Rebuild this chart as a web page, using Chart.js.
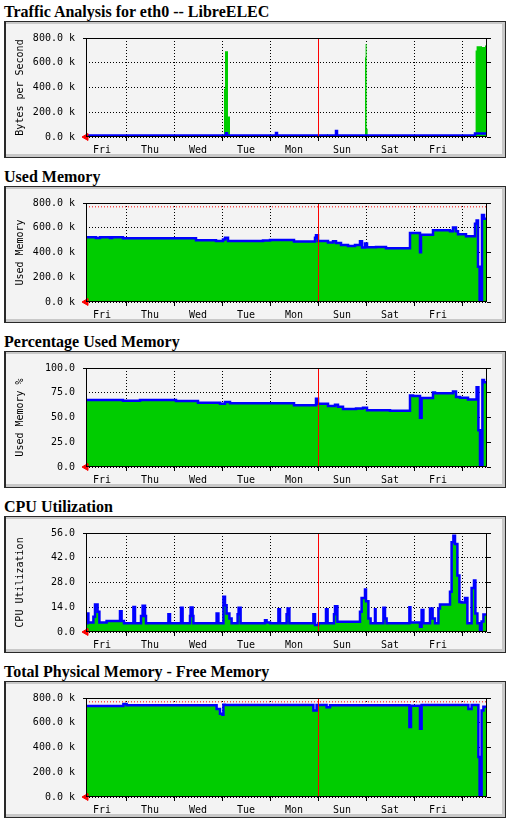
<!DOCTYPE html>
<html>
<head>
<meta charset="utf-8">
<script src="https://cdn.jsdelivr.net/npm/chart.js@4.4.0/dist/chart.umd.min.js"></script>
<style>
body { margin: 0; background: #fff; width: 510px; height: 824px; position: relative; overflow: hidden; }
.title { position: absolute; left: 4px; font: bold 16px "Liberation Serif", serif; line-height: 16px; color: #000; white-space: nowrap; }
canvas { position: absolute; left: 4px; }
</style>
</head>
<body>
<script>
// time axis, in hours from the left edge of the plot
const dayLabels = ['Fri', 'Thu', 'Wed', 'Tue', 'Mon', 'Sun', 'Sat', 'Fri']
const dayLabelHours = [8, 32, 56, 80, 104, 128, 152, 176]
const dayGridHours = [20, 44, 68, 92, 116, 140, 164, 188]
const spanHours = 200.5
const markerHour = 116.25

// traffic (k bytes/s)
const trafficInHours = [0, 69, 69.5, 71, 72, 120.5, 121, 139.5, 139.8, 140.3, 140.8, 194.8, 195.3, 198, 199.5, 200.5]
const trafficInValues = [5, 390, 692, 166, 5, 25, 5, 644, 752, 67, 5, 698, 733, 728, 740, 740]
const trafficOutHours = [0, 70, 70.5, 95, 95.5, 125, 125.5, 194.5, 200.5]
const trafficOutValues = [13, 30, 13, 32, 13, 48, 13, 28, 28]

// used memory (k)
const usedHours = [0, 5, 7, 12, 13, 18.5, 55, 65, 68.5, 69.5, 71, 88.5, 92, 104, 114.5, 115, 116, 121, 123.5, 125, 127.5, 131, 134.5, 137, 138, 139.5, 140.5, 145, 150, 162, 167, 167.5, 173.5, 182, 183.5, 185, 186, 190, 194.5, 195.3, 196, 196.8, 198, 199, 200.5]
const usedValues = [523, 517, 523, 518, 523, 515, 499, 493, 505, 520, 493, 496, 501, 488, 520, 539, 493, 480, 491, 477, 461, 453, 461, 491, 440, 472, 443, 445, 435, 557, 403, 544, 579, 572, 603, 572, 547, 531, 632, 659, 285, 0, 704, 672, 672]
const totalMemory = 769

// percentage used memory
const pctHours = [0, 18.5, 27, 45, 56, 67, 69.5, 72, 104, 115, 116, 121, 124.5, 126, 128.5, 135, 138.5, 140.5, 152, 162, 163.5, 167, 167.8, 173.5, 174.5, 183.5, 185, 187, 191, 195.3, 196.2, 197, 198.2, 199, 200.5]
const pctValues = [67.6, 66.9, 67.6, 66.6, 64.9, 63.9, 65.6, 64.5, 62.5, 68.9, 63.9, 61.5, 62.9, 60.9, 58.5, 59.2, 59.9, 57.2, 56.9, 72.2, 71.6, 49.8, 69.6, 75.3, 74.6, 76.3, 70.6, 69.9, 68.2, 80.6, 37, 0, 88, 85.6, 85.6]

// cpu utilization
const cpuHours = [0, 0.7, 1.2, 3.7, 4.5, 5.8, 6.7, 10.3, 17, 17.8, 19, 23.7, 24.5, 27.5, 28.3, 29.5, 30, 41.2, 42, 47.5, 48.3, 52, 52.3, 53.3, 53.7, 65.3, 66.2, 68.7, 69.5, 70.3, 71.7, 72.8, 75.8, 76.3, 77.3, 89.5, 90.3, 92, 96.2, 97, 100.3, 100.8, 101.7, 113.7, 114.5, 116.2, 120, 120.8, 124, 124.5, 125.7, 137, 137.8, 139.5, 140, 141.2, 142.3, 144.5, 144.8, 148.7, 149.5, 150.3, 161.7, 162.2, 167, 167.8, 168.7, 172, 173.3, 174.5, 176.2, 177, 182, 182.8, 183.7, 184.5, 185.7, 186.7, 187.8, 189.5, 190.7, 192.8, 194, 194.7, 195.7, 197, 197.8, 198.7, 200.5]
const cpuValues = [4.9, 10.5, 5.4, 8.6, 15.5, 11.4, 5.4, 6.2, 11.8, 6.2, 4.9, 14.2, 4.9, 9, 14.8, 9, 4.9, 10.1, 4.9, 13.7, 4.9, 9, 13.9, 9, 4.9, 10.5, 4.9, 19.9, 15.2, 10.5, 7.7, 4.9, 10, 13.7, 4.9, 6.7, 5.4, 4.9, 12.9, 4.9, 10, 13.3, 4.9, 10.1, 3.9, 4.9, 12.9, 4.9, 10, 14.6, 5.8, 11.4, 19.3, 24, 17.4, 7.7, 4.9, 12.9, 4.9, 13.7, 7.7, 4.9, 14, 5.4, 3, 12.4, 4.9, 13.3, 7.7, 4.9, 13.3, 15.5, 22.7, 50.8, 54.5, 49.8, 32, 17, 16.7, 19.3, 4.9, 24.9, 29.2, 10.5, 4.9, 0, 6, 9.9, 9.9]

// total physical memory - free memory (k)
const freeHours = [0, 18.7, 20.3, 65.3, 67, 68.2, 68.7, 69.5, 113.7, 115.3, 120.3, 122, 161.7, 162.5, 167, 167.8, 191.2, 192.8, 196.2, 196.8, 197.8, 198.7, 200.5]
const freeValues = [736, 752, 741, 712, 672, 664, 746, 744, 698, 744, 725, 741, 565, 738, 551, 744, 712, 744, 324, 0, 698, 730, 730]

const mono = { family: 'DejaVu Sans Mono', size: 10 }
const fmtK = v => v.toFixed(1) + ' k'
const fmtN = v => v.toFixed(1)
const pts = (xs, ys) => xs.map((x, i) => ({ x: x, y: ys[i] }))
const tickHours = dayLabelHours.concat(dayGridHours).sort((a, b) => a - b)
const isGrid = ctx => ctx.tick && dayGridHours.includes(ctx.tick.value)

const panels = [
    { title: 'Traffic Analysis for eth0 -- LibreELEC', yTitle: 'Bytes per Second', max: 800, step: 200, fmt: fmtK,
      area: pts(trafficInHours, trafficInValues), line: pts(trafficOutHours, trafficOutValues) },
    { title: 'Used Memory', yTitle: 'Used Memory', max: 800, step: 200, fmt: fmtK,
      area: pts(usedHours, usedValues), line: pts(usedHours, usedValues), ref: totalMemory },
    { title: 'Percentage Used Memory', yTitle: 'Used Memory %', max: 100, step: 25, fmt: fmtN,
      area: pts(pctHours, pctValues), line: pts(pctHours, pctValues) },
    { title: 'CPU Utilization', yTitle: 'CPU Utilization', max: 56, step: 14, fmt: fmtN,
      area: pts(cpuHours, cpuValues), line: pts(cpuHours, cpuValues) },
    { title: 'Total Physical Memory - Free Memory', yTitle: '', max: 800, step: 200, fmt: fmtK,
      area: pts(freeHours, freeValues), line: pts(freeHours, freeValues), ref: totalMemory },
]

// grey bevelled box behind the graph, black frame round the plot
const boxPlugin = {
    id: 'box',
    beforeDraw(chart) {
        const { ctx, width, height } = chart
        ctx.save()
        ctx.fillStyle = '#2a2a2a'
        ctx.fillRect(0, 0, width, height)
        ctx.fillStyle = '#c8c8c8'
        ctx.fillRect(2, 1, width - 3, height - 2)
        ctx.fillStyle = '#f3f3f3'
        ctx.fillRect(2, 3, width - 6, height - 7)
        ctx.restore()
    },
    afterDatasetsDraw(chart) {
        const { ctx, chartArea: a } = chart
        ctx.save()
        ctx.strokeStyle = '#000'
        ctx.lineWidth = 1
        ctx.strokeRect(a.left + 0.5, a.top + 0.5, a.right - a.left - 1, a.bottom - a.top - 1)
        ctx.beginPath()
        ctx.moveTo(a.left - 3, a.top + 0.5)
        ctx.lineTo(a.left, a.top + 0.5)
        ctx.stroke()
        ctx.restore()
    }
}

panels.forEach((p, i) => {
    const t = document.createElement('div')
    t.className = 'title'
    t.style.top = (4 + 165 * i) + 'px'
    t.textContent = p.title
    document.body.appendChild(t)

    const c = document.createElement('canvas')
    c.width = 502
    c.height = 137
    c.style.top = (21 + 165 * i) + 'px'
    document.body.appendChild(c)

    const datasets = [
        { data: [{ x: 0, y: 0 }], showLine: false, pointStyle: 'triangle', rotation: -90, pointRadius: 4,
          backgroundColor: '#ff0000', borderColor: '#ff0000', borderWidth: 1, clip: false },
        { data: [{ x: markerHour, y: 0 }, { x: markerHour, y: p.max }], borderColor: '#ff0000', borderWidth: 1, pointRadius: 0 },
    ]
    if (p.ref) {
        datasets.push({ data: [{ x: 0, y: p.ref }, { x: spanHours, y: p.ref }], borderColor: '#ff0000',
            borderWidth: 1, borderDash: [1, 2], pointRadius: 0 })
    }
    datasets.push({ data: p.line, stepped: true, borderColor: '#0000ff', borderWidth: 2.5, pointRadius: 0, fill: false })
    datasets.push({ data: p.area, stepped: true, borderWidth: 0, borderColor: 'rgba(0,0,0,0)',
        backgroundColor: '#00cc00', fill: 'origin', pointRadius: 0 })

    new Chart(c, {
        type: 'line',
        data: { datasets: datasets },
        plugins: [boxPlugin],
        options: {
            responsive: false,
            animation: false,
            events: [],
            layout: { padding: { top: 16, left: 0, right: 0, bottom: 0 } },
            plugins: {
                legend: { display: false },
                tooltip: { enabled: false },
            },
            scales: {
                x: {
                    type: 'linear',
                    min: 0,
                    max: spanHours,
                    afterBuildTicks: s => { s.ticks = tickHours.map(v => ({ value: v })) },
                    afterFit: s => { s.height = 21 },
                    border: { display: false, dash: [1, 2] },
                    grid: {
                        color: ctx => isGrid(ctx) ? '#000' : 'rgba(0,0,0,0)',
                        tickColor: ctx => isGrid(ctx) ? '#000' : 'rgba(0,0,0,0)',
                        tickLength: 4,
                    },
                    ticks: {
                        autoSkip: false,
                        maxRotation: 0,
                        padding: 3,
                        color: '#000',
                        font: mono,
                        callback: v => {
                            const k = dayLabelHours.indexOf(v)
                            return k >= 0 ? dayLabels[k] : ''
                        },
                    },
                },
                y: {
                    min: 0,
                    max: p.max,
                    afterFit: s => { s.width = 82 },
                    border: { display: false, dash: [1, 2] },
                    grid: { color: '#000', drawTicks: false },
                    ticks: { stepSize: p.step, padding: 11, color: '#000', font: mono, callback: p.fmt },
                    title: { display: !!p.yTitle, text: p.yTitle, color: '#000', font: mono, padding: { top: 10, bottom: 0 } },
                },
                yR: {
                    position: 'right',
                    min: 0,
                    max: p.max,
                    afterFit: s => { s.width = 19 },
                    border: { display: false },
                    grid: { drawOnChartArea: false, color: '#000', tickLength: 4 },
                    ticks: { display: false, stepSize: p.step },
                },
            },
        },
    })
})
</script>
</body>
</html>
